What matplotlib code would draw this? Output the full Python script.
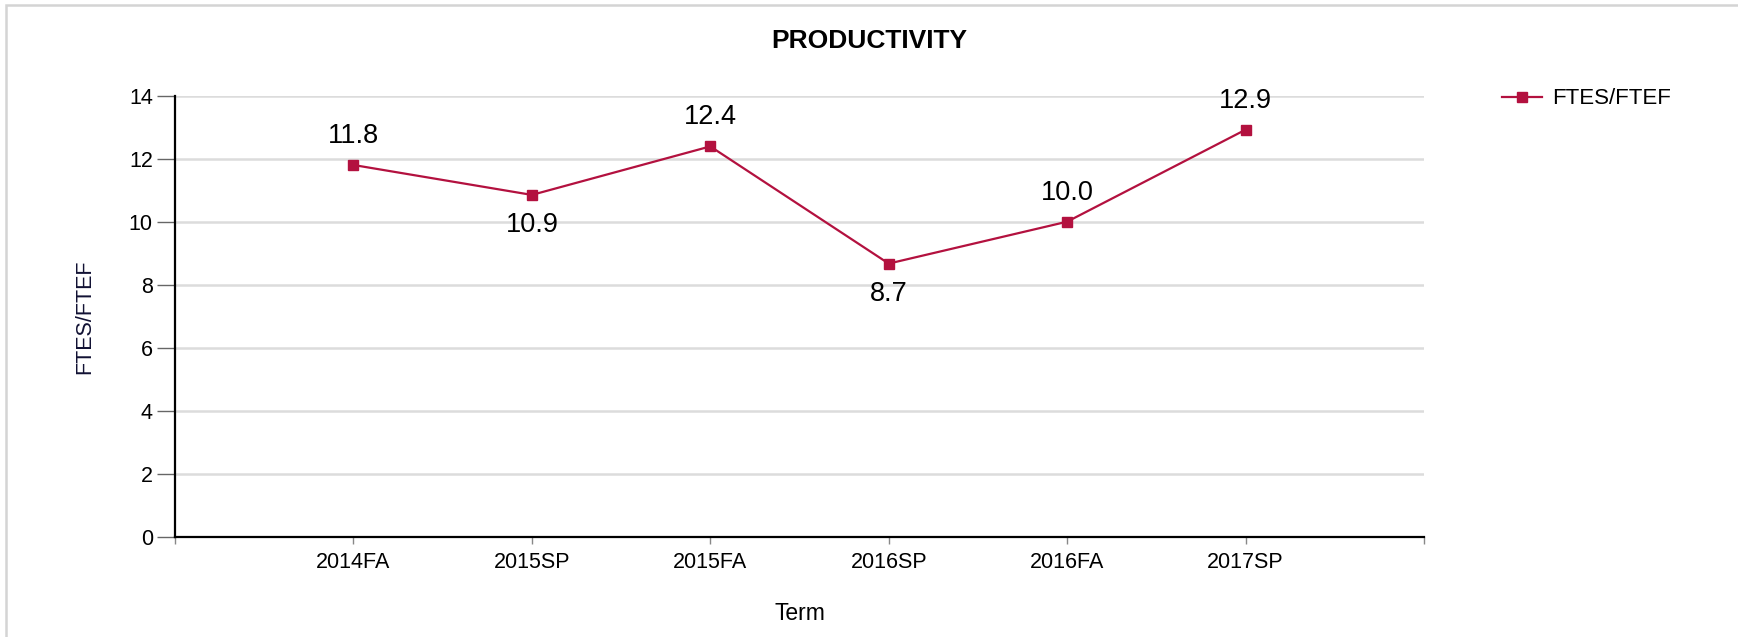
import matplotlib
matplotlib.use("Agg")
import matplotlib.pyplot as plt
from matplotlib.patches import Rectangle

plt.rcParams['font.family'] = ['Liberation Sans', 'DejaVu Sans']

terms = ["2014FA", "2015SP", "2015FA", "2016SP", "2016FA", "2017SP"]
values = [11.81, 10.86, 12.40, 8.68, 10.01, 12.93]
label_pos = ["above", "below", "above", "below", "above", "above"]
series_name = "FTES/FTEF"
yticks = [0, 2, 4, 6, 8, 10, 12, 14]

color = "#B3113F"

fig = plt.figure(figsize=(17.38, 6.37), dpi=100)
fig.patch.set_facecolor("white")
# outer frame
fig.add_artist(Rectangle((6/1738, -0.1), 1.2, 1 - 5/637 + 0.1, transform=fig.transFigure,
                         fill=False, edgecolor="#d4d4d4", linewidth=1.8))

ax = fig.add_axes([175/1738, 1 - 537/637, (1424 - 175)/1738, (537 - 96)/637])
x = list(range(1, len(terms) + 1))
ax.plot(x, values, color=color, linewidth=1.6, marker="s", markersize=7, label=series_name, zorder=3)

for xi, v, pos in zip(x, values, label_pos):
    off = 21 if pos == "above" else -22
    ax.annotate(f"{v:.1f}", (xi, v), xytext=(0, off), textcoords="offset points",
                ha="center", va="center", fontsize=19.5, color="black")

ax.set_xlim(0, len(terms) + 1)
ax.set_ylim(0, 14)
ax.set_yticks(yticks)
ax.set_xticks([0] + x + [len(terms) + 1])
ax.set_xticklabels([""] + terms + [""])
ax.yaxis.grid(True, color="#dcdcdc", linewidth=1.8)
ax.set_axisbelow(True)

for s in ["top", "right"]:
    ax.spines[s].set_visible(False)
for s in ["left", "bottom"]:
    ax.spines[s].set_color("black")
    ax.spines[s].set_linewidth(1.6)

ax.tick_params(axis="y", length=13, width=1, color="#666666", labelsize=15.5, pad=3)
ax.tick_params(axis="x", length=5, width=1, color="#888888", labelsize=15.5, pad=6)

ax.set_ylabel("FTES/FTEF", fontsize=15.5, color="#111133")
ax.yaxis.set_label_coords(-0.064, 0.5)
ax.set_xlabel("Term", fontsize=16.5)
ax.xaxis.set_label_coords(0.5, -0.147)

fig.text(0.5, 1 - 41/637, "PRODUCTIVITY", ha="center", va="center", fontsize=19, fontweight="bold")

fig.legend(loc="center left", bbox_to_anchor=(1502/1738, 1 - 99/637), frameon=False,
           fontsize=16, handlelength=1.8, handletextpad=0.45, borderpad=0, borderaxespad=0)

fig.savefig("out.png", dpi=100)
